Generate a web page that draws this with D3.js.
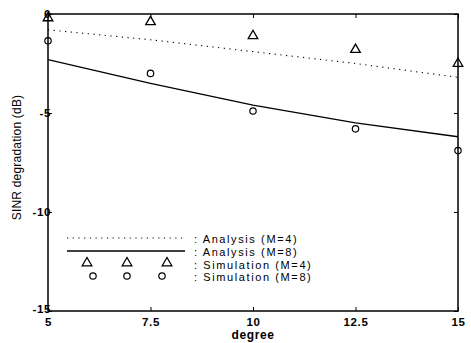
<!DOCTYPE html>
<html><head><meta charset="utf-8">
<script src="https://cdn.jsdelivr.net/npm/d3@7"></script>
<style>body{margin:0;background:#fff}svg{display:block}</style>
</head><body>
<script>
const degrees = [5, 7.5, 10, 12.5, 15];
const analysisM4 = [-0.8, -1.3, -1.9, -2.5, -3.2];
const analysisM8 = [-2.3, -3.5, -4.6, -5.5, -6.2];
const simM4 = [-0.2, -0.4, -1.1, -1.8, -2.5];
const simM8 = [-1.35, -3.0, -4.9, -5.8, -6.9];
const xTicks = [5, 7.5, 10, 12.5, 15];
const yTicks = [0, -5, -10, -15];
const legendLabels = [": Analysis (M=4)", ": Analysis (M=8)", ": Simulation (M=4)", ": Simulation (M=8)"];

const W = 471, H = 343;
const m = {l: 48, r: 13, t: 14, b: 32};
const svg = d3.select("body").append("svg").attr("width", W).attr("height", H);
const x = d3.scaleLinear().domain([5, 15]).range([m.l, W - m.r]);
const y = d3.scaleLinear().domain([-15, 0]).range([H - m.b, m.t]);
const font = "Arial, 'Liberation Sans', Helvetica, sans-serif";

// frame
svg.append("rect").attr("x", x(5)).attr("y", y(0)).attr("width", x(15) - x(5)).attr("height", y(-15) - y(0))
  .attr("fill", "none").attr("stroke", "#000").attr("stroke-width", 1.5);

// axes
const xb = svg.append("g").attr("transform", `translate(0,${y(-15)})`)
  .call(d3.axisBottom(x).tickValues(xTicks).tickSize(-4).tickPadding(7).tickFormat(d => d));
const xt = svg.append("g").attr("transform", `translate(0,${y(0)})`)
  .call(d3.axisTop(x).tickValues(xTicks).tickSize(-4).tickFormat(""));
const yl = svg.append("g").attr("transform", `translate(${x(5)},0)`)
  .call(d3.axisLeft(y).tickValues(yTicks).tickSize(-4).tickPadding(-3).tickFormat(d => d));
const yr = svg.append("g").attr("transform", `translate(${x(15)},0)`)
  .call(d3.axisRight(y).tickValues(yTicks).tickSize(-4).tickFormat(""));
[xb, xt, yl, yr].forEach(g => {
  g.select(".domain").remove();
  g.selectAll("line").attr("stroke", "#000").attr("stroke-width", 1);
  g.selectAll("text").attr("font-family", font).attr("font-size", 11.5).attr("font-weight", "bold")
    .attr("letter-spacing", 0.6).attr("fill", "#000");
});
yl.selectAll(".tick").filter(d => d === -15).select("text").attr("dy", "0.1em");

// lines
const line = d3.line().x((d, i) => x(degrees[i])).y(d => y(d));
svg.append("path").datum(analysisM4).attr("d", line).attr("fill", "none").attr("stroke", "#000")
  .attr("stroke-width", 1.1).attr("stroke-dasharray", "1.2,4.5");
svg.append("path").datum(analysisM8).attr("d", line).attr("fill", "none").attr("stroke", "#000")
  .attr("stroke-width", 1.3);

const tri = d3.symbol().type(d3.symbolTriangle).size(40);
svg.selectAll(".tri").data(simM4).enter().append("path")
  .attr("transform", (d, i) => `translate(${x(degrees[i])},${y(d)})`)
  .attr("d", tri).attr("fill", "none").attr("stroke", "#000").attr("stroke-width", 1.3);
svg.selectAll(".circ").data(simM8).enter().append("circle")
  .attr("cx", (d, i) => x(degrees[i])).attr("cy", d => y(d)).attr("r", 3.2)
  .attr("fill", "none").attr("stroke", "#000").attr("stroke-width", 1.2);

// legend
const lg = svg.append("g");
lg.append("line").attr("x1", 67).attr("x2", 185).attr("y1", 238).attr("y2", 238)
  .attr("stroke", "#000").attr("stroke-width", 1.1).attr("stroke-dasharray", "1.2,4.5");
lg.append("line").attr("x1", 67).attr("x2", 185).attr("y1", 251).attr("y2", 251)
  .attr("stroke", "#000").attr("stroke-width", 1.3);
[87, 127, 167].forEach(cx => lg.append("path").attr("transform", `translate(${cx},263)`)
  .attr("d", tri).attr("fill", "none").attr("stroke", "#000").attr("stroke-width", 1.3));
[93, 127, 162].forEach(cx => lg.append("circle").attr("cx", cx).attr("cy", 276).attr("r", 3.2)
  .attr("fill", "none").attr("stroke", "#000").attr("stroke-width", 1.2));
legendLabels.forEach((t, i) => lg.append("text").attr("x", 194).attr("y", [239, 252, 265, 277][i])
  .attr("dy", "0.35em").attr("font-family", font).attr("font-size", 11).attr("letter-spacing", 1.6)
  .attr("fill", "#000").text(t));

// axis labels
svg.append("text").attr("x", x(10)).attr("y", 339).attr("text-anchor", "middle")
  .attr("font-family", font).attr("font-size", 12).attr("font-weight", "bold").attr("letter-spacing", 0.6).text("degree");
svg.append("text").attr("transform", `translate(21,${(y(0) + y(-15)) / 2 - 5}) rotate(-90)`)
  .attr("text-anchor", "middle").attr("font-family", font).attr("font-size", 12).attr("letter-spacing", 0.2)
  .text("SINR degradation (dB)");
</script>
</body></html>
